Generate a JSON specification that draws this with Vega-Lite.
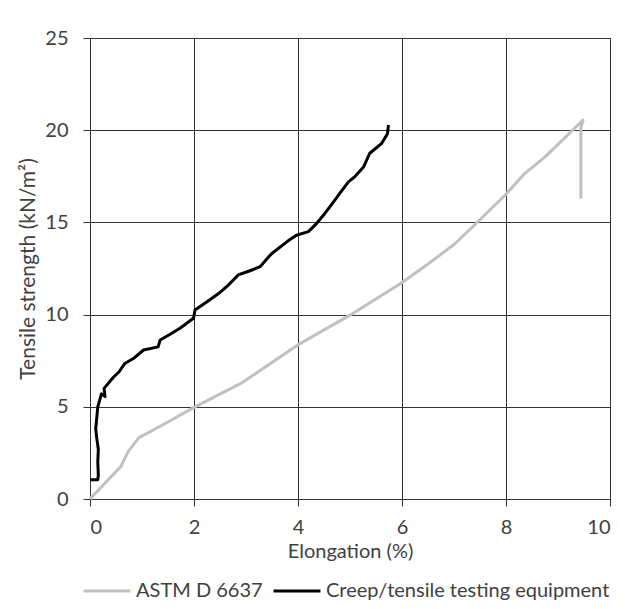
{
  "$schema": "https://vega.github.io/schema/vega-lite/v6.json",
  "autosize": {"type": "none"},
  "padding": {"left": 90, "top": 38, "right": 22, "bottom": 110},
  "width": 520,
  "height": 461,
  "background": "white",
  "config": {
    "font": "Lato",
    "view": {"stroke": "#333", "strokeWidth": 1}
  },
  "data": {
    "values": [
      {"series": "ASTM D 6637", "i": 0, "x": 0, "y": 0},
      {"series": "ASTM D 6637", "i": 1, "x": 0.3, "y": 0.9},
      {"series": "ASTM D 6637", "i": 2, "x": 0.59, "y": 1.75},
      {"series": "ASTM D 6637", "i": 3, "x": 0.74, "y": 2.6},
      {"series": "ASTM D 6637", "i": 4, "x": 0.94, "y": 3.33},
      {"series": "ASTM D 6637", "i": 5, "x": 1.36, "y": 3.96},
      {"series": "ASTM D 6637", "i": 6, "x": 2.0, "y": 4.97},
      {"series": "ASTM D 6637", "i": 7, "x": 2.91, "y": 6.28},
      {"series": "ASTM D 6637", "i": 8, "x": 3.98, "y": 8.33},
      {"series": "ASTM D 6637", "i": 9, "x": 5.0, "y": 9.97},
      {"series": "ASTM D 6637", "i": 10, "x": 5.98, "y": 11.7},
      {"series": "ASTM D 6637", "i": 11, "x": 6.48, "y": 12.7},
      {"series": "ASTM D 6637", "i": 12, "x": 7.0, "y": 13.8},
      {"series": "ASTM D 6637", "i": 13, "x": 7.41, "y": 14.9},
      {"series": "ASTM D 6637", "i": 14, "x": 7.99, "y": 16.5},
      {"series": "ASTM D 6637", "i": 15, "x": 8.34, "y": 17.6},
      {"series": "ASTM D 6637", "i": 16, "x": 8.73, "y": 18.5},
      {"series": "ASTM D 6637", "i": 17, "x": 9.1, "y": 19.5},
      {"series": "ASTM D 6637", "i": 18, "x": 9.48, "y": 20.55},
      {"series": "ASTM D 6637", "i": 19, "x": 9.44, "y": 20.1},
      {"series": "ASTM D 6637", "i": 20, "x": 9.44, "y": 16.3},
      {"series": "Creep/tensile testing equipment", "i": 0, "x": 0, "y": 1.05},
      {"series": "Creep/tensile testing equipment", "i": 1, "x": 0.15, "y": 1.05},
      {"series": "Creep/tensile testing equipment", "i": 2, "x": 0.16, "y": 1.3},
      {"series": "Creep/tensile testing equipment", "i": 3, "x": 0.15, "y": 2.0},
      {"series": "Creep/tensile testing equipment", "i": 4, "x": 0.16, "y": 2.7},
      {"series": "Creep/tensile testing equipment", "i": 5, "x": 0.13, "y": 3.3},
      {"series": "Creep/tensile testing equipment", "i": 6, "x": 0.11, "y": 3.8},
      {"series": "Creep/tensile testing equipment", "i": 7, "x": 0.13, "y": 4.4},
      {"series": "Creep/tensile testing equipment", "i": 8, "x": 0.15, "y": 5.0},
      {"series": "Creep/tensile testing equipment", "i": 9, "x": 0.22, "y": 5.7},
      {"series": "Creep/tensile testing equipment", "i": 10, "x": 0.29, "y": 5.55},
      {"series": "Creep/tensile testing equipment", "i": 11, "x": 0.27, "y": 6.0},
      {"series": "Creep/tensile testing equipment", "i": 12, "x": 0.45, "y": 6.6},
      {"series": "Creep/tensile testing equipment", "i": 13, "x": 0.56, "y": 6.9},
      {"series": "Creep/tensile testing equipment", "i": 14, "x": 0.67, "y": 7.35},
      {"series": "Creep/tensile testing equipment", "i": 15, "x": 0.85, "y": 7.65},
      {"series": "Creep/tensile testing equipment", "i": 16, "x": 1.03, "y": 8.08},
      {"series": "Creep/tensile testing equipment", "i": 17, "x": 1.31, "y": 8.25},
      {"series": "Creep/tensile testing equipment", "i": 18, "x": 1.35, "y": 8.62},
      {"series": "Creep/tensile testing equipment", "i": 19, "x": 1.55, "y": 8.95},
      {"series": "Creep/tensile testing equipment", "i": 20, "x": 1.73, "y": 9.26},
      {"series": "Creep/tensile testing equipment", "i": 21, "x": 1.99, "y": 9.8},
      {"series": "Creep/tensile testing equipment", "i": 22, "x": 2.02, "y": 10.25},
      {"series": "Creep/tensile testing equipment", "i": 23, "x": 2.25, "y": 10.7},
      {"series": "Creep/tensile testing equipment", "i": 24, "x": 2.5, "y": 11.2},
      {"series": "Creep/tensile testing equipment", "i": 25, "x": 2.66, "y": 11.6},
      {"series": "Creep/tensile testing equipment", "i": 26, "x": 2.85, "y": 12.15},
      {"series": "Creep/tensile testing equipment", "i": 27, "x": 3.05, "y": 12.35},
      {"series": "Creep/tensile testing equipment", "i": 28, "x": 3.27, "y": 12.6},
      {"series": "Creep/tensile testing equipment", "i": 29, "x": 3.49, "y": 13.3},
      {"series": "Creep/tensile testing equipment", "i": 30, "x": 3.81, "y": 14.0},
      {"series": "Creep/tensile testing equipment", "i": 31, "x": 3.97, "y": 14.3},
      {"series": "Creep/tensile testing equipment", "i": 32, "x": 4.2, "y": 14.5},
      {"series": "Creep/tensile testing equipment", "i": 33, "x": 4.36, "y": 14.95},
      {"series": "Creep/tensile testing equipment", "i": 34, "x": 4.52, "y": 15.5},
      {"series": "Creep/tensile testing equipment", "i": 35, "x": 4.68, "y": 16.1},
      {"series": "Creep/tensile testing equipment", "i": 36, "x": 4.81, "y": 16.6},
      {"series": "Creep/tensile testing equipment", "i": 37, "x": 4.97, "y": 17.2},
      {"series": "Creep/tensile testing equipment", "i": 38, "x": 5.1, "y": 17.5},
      {"series": "Creep/tensile testing equipment", "i": 39, "x": 5.26, "y": 18.0},
      {"series": "Creep/tensile testing equipment", "i": 40, "x": 5.38, "y": 18.75},
      {"series": "Creep/tensile testing equipment", "i": 41, "x": 5.61, "y": 19.29},
      {"series": "Creep/tensile testing equipment", "i": 42, "x": 5.72, "y": 19.8},
      {"series": "Creep/tensile testing equipment", "i": 43, "x": 5.74, "y": 20.28}
    ]
  },
  "mark": {"type": "line", "strokeWidth": 3, "strokeJoin": "round", "strokeCap": "butt"},
  "encoding": {
    "x": {
      "field": "x", "type": "quantitative",
      "scale": {"domain": [0, 10], "nice": false, "zero": true},
      "axis": {
        "title": "Elongation (%)",
        "values": [0, 2, 4, 6, 8, 10],
        "grid": true, "gridColor": "#333", "gridWidth": 1, "gridOpacity": 1,
        "domainColor": "#333", "domainWidth": 1,
        "tickColor": "#333", "tickSize": 7, "tickWidth": 1,
        "labelFontSize": 20, "labelColor": "#404040", "labelPadding": 11,
        "labelFont": "Lato",
        "titleFontSize": 20, "titleColor": "#404040", "titleFontWeight": "normal",
        "titleFont": "Lato", "titlePadding": 4
      }
    },
    "y": {
      "field": "y", "type": "quantitative",
      "scale": {"domain": [0, 25], "nice": false},
      "axis": {
        "title": "Tensile strength (kN/m²)",
        "values": [0, 5, 10, 15, 20, 25],
        "grid": true, "gridColor": "#333", "gridWidth": 1, "gridOpacity": 1,
        "domainColor": "#333", "domainWidth": 1,
        "tickColor": "#333", "tickSize": 7, "tickWidth": 1,
        "labelFontSize": 20, "labelColor": "#404040", "labelPadding": 15,
        "labelFont": "Lato",
        "titleFontSize": 21, "titleColor": "#404040", "titleFontWeight": "normal",
        "titleFont": "Lato", "titlePadding": 6
      }
    },
    "color": {
      "field": "series", "type": "nominal",
      "scale": {"domain": ["ASTM D 6637", "Creep/tensile testing equipment"], "range": ["#c0c0c0", "#000000"]},
      "legend": {
        "title": null,
        "orient": "none",
        "legendX": -8,
        "legendY": 528,
        "direction": "horizontal",
        "symbolType": "stroke",
        "symbolSize": 2200,
        "symbolStrokeWidth": 3,
        "labelFontSize": 20,
        "labelColor": "#404040",
        "labelFont": "Lato",
        "labelLimit": 400,
        "columnPadding": 4
      }
    },
    "detail": {"field": "series"},
    "order": {"field": "i", "type": "quantitative"}
  }
}
